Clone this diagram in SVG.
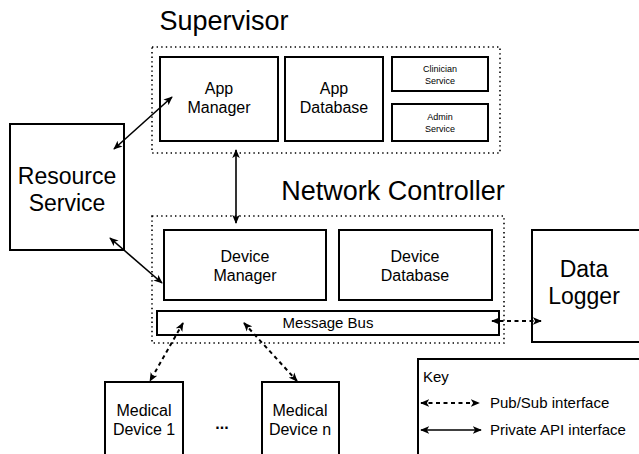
<svg xmlns="http://www.w3.org/2000/svg" width="639" height="454" viewBox="0 0 639 454">
<style>
text{font-family:"Liberation Sans",Arial,sans-serif;fill:#000;text-anchor:middle}
.box{fill:#fff;stroke:#000;stroke-width:2}
.dot{fill:none;stroke:#000;stroke-width:1.6;stroke-dasharray:1.4 3.2}
.solid{fill:none;stroke:#000;stroke-width:1.6}
.dash{fill:none;stroke:#000;stroke-width:2;stroke-dasharray:4 3.5}
.t27{font-size:27px}
.t23{font-size:23px}
.t16{font-size:16px}
.t15{font-size:15px}
.t9{font-size:9px}
</style>
<defs>
<marker id="ah" viewBox="0 0 10 10" refX="9" refY="5" markerWidth="9" markerHeight="9" markerUnits="userSpaceOnUse" orient="auto-start-reverse">
<path d="M0,0.8 L10,5 L0,9.2 L2.5,5 z" fill="#000"/>
</marker>
</defs>
<rect width="639" height="454" fill="#fff"/>

<g id="supervisor">
<text class="t27" x="224" y="30">Supervisor</text>
<rect class="dot" x="152" y="47" width="348" height="106"/>
</g>
<g id="app-manager">
<rect class="box" x="160" y="57" width="118" height="84"/>
<text class="t16" x="219" y="94">App</text>
<text class="t16" x="219" y="113">Manager</text>
</g>
<g id="app-database">
<rect class="box" x="285" y="57" width="98" height="84"/>
<text class="t16" x="334" y="94">App</text>
<text class="t16" x="334" y="113">Database</text>
</g>
<g id="clinician-service">
<rect class="box" x="392" y="57" width="96" height="34"/>
<text class="t9" x="440" y="72">Clinician</text>
<text class="t9" x="440" y="84">Service</text>
</g>
<g id="admin-service">
<rect class="box" x="392" y="104" width="96" height="37"/>
<text class="t9" x="440" y="120">Admin</text>
<text class="t9" x="440" y="132">Service</text>
</g>
<g id="resource-service">
<rect class="box" x="10" y="124" width="114" height="126"/>
<text class="t23" x="67" y="184">Resource</text>
<text class="t23" x="67" y="211">Service</text>
</g>
<g id="network-controller">
<text class="t27" x="393" y="200">Network Controller</text>
<rect class="dot" x="152" y="216" width="352" height="127"/>
</g>
<g id="device-manager">
<rect class="box" x="164" y="230" width="162" height="70"/>
<text class="t16" x="245" y="262">Device</text>
<text class="t16" x="245" y="281">Manager</text>
</g>
<g id="device-database">
<rect class="box" x="339" y="230" width="153" height="70"/>
<text class="t16" x="415" y="262">Device</text>
<text class="t16" x="415" y="281">Database</text>
</g>
<g id="message-bus">
<rect class="box" x="157" y="311" width="342" height="24"/>
<text class="t15" x="328" y="328">Message Bus</text>
</g>
<g id="data-logger">
<rect class="box" x="532" y="230" width="120" height="112"/>
<text class="t23" x="584" y="277">Data</text>
<text class="t23" x="584" y="304">Logger</text>
</g>
<g id="medical-device-1">
<rect class="box" x="105" y="382" width="78" height="80"/>
<text class="t16" x="144" y="416">Medical</text>
<text class="t16" x="144" y="435">Device 1</text>
</g>
<g id="ellipsis">
<text class="t16" x="222" y="429" style="font-weight:bold">...</text>
</g>
<g id="medical-device-n">
<rect class="box" x="262" y="382" width="77" height="80"/>
<text class="t16" x="300" y="416">Medical</text>
<text class="t16" x="300" y="435">Device n</text>
</g>
<g id="key">
<rect class="box" x="418" y="359" width="240" height="110"/>
<text class="t15" x="423" y="382" style="text-anchor:start">Key</text>
<line class="dash" x1="421" y1="403" x2="479" y2="403" marker-start="url(#ah)" marker-end="url(#ah)"/>
<text class="t15" x="490" y="408" style="text-anchor:start">Pub/Sub interface</text>
<line class="solid" x1="421" y1="430" x2="481" y2="430" marker-start="url(#ah)" marker-end="url(#ah)"/>
<text class="t15" x="490" y="435" style="text-anchor:start">Private API interface</text>
</g>

<g id="connectors">
<line class="solid" x1="114" y1="149" x2="172" y2="97" marker-start="url(#ah)" marker-end="url(#ah)"/>
<line class="solid" x1="110" y1="238" x2="162" y2="283" marker-start="url(#ah)" marker-end="url(#ah)"/>
<line class="solid" x1="236" y1="150" x2="236" y2="223" marker-start="url(#ah)" marker-end="url(#ah)"/>
<line class="dash" x1="492" y1="321" x2="541" y2="321" marker-start="url(#ah)" marker-end="url(#ah)"/>
<line class="dash" x1="183" y1="323" x2="150" y2="381" marker-start="url(#ah)" marker-end="url(#ah)"/>
<line class="dash" x1="244" y1="323" x2="297" y2="381" marker-start="url(#ah)" marker-end="url(#ah)"/>
</g>
</svg>
